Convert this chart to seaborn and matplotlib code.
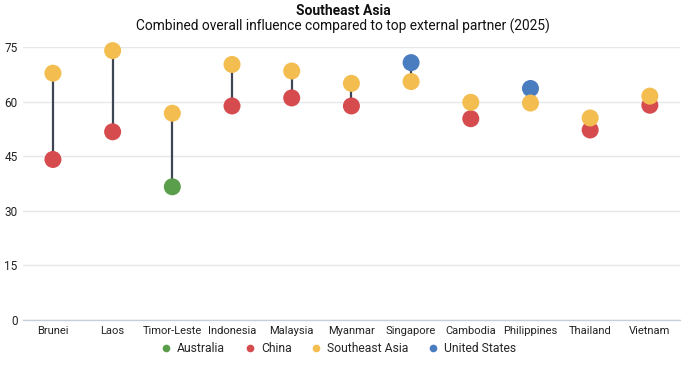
import matplotlib
matplotlib.use("Agg")
import matplotlib.pyplot as plt
import seaborn as sns
import pandas as pd

countries = ["Brunei", "Laos", "Timor-Leste", "Indonesia", "Malaysia", "Myanmar",
             "Singapore", "Cambodia", "Philippines", "Thailand", "Vietnam"]
sea_values = [67.8, 74.0, 56.8, 70.2, 68.4, 65.0, 65.5, 59.8, 59.6, 55.5, 61.5]
partner_names = ["China", "China", "Australia", "China", "China", "China",
                 "United States", "China", "United States", "China", "China"]
partner_values = [44.1, 51.7, 36.6, 58.8, 61.0, 58.8, 70.7, 55.3, 63.6, 52.2, 59.0]
hue_order = ["Australia", "China", "Southeast Asia", "United States"]
palette = {"Australia": "#5a9e4b", "China": "#d64b4e",
           "Southeast Asia": "#f3bd4f", "United States": "#4a7cc0"}
yticks = [0, 15, 30, 45, 60, 75]

sns.set_theme(style="white")
plt.rcParams["font.family"] = ["Roboto", "DejaVu Sans"]

df = pd.concat([
    pd.DataFrame({"country": countries, "value": partner_values, "series": partner_names}),
    pd.DataFrame({"country": countries, "value": sea_values,
                  "series": ["Southeast Asia"] * len(countries)}),
], ignore_index=True)

fig = plt.figure(figsize=(7, 3.67), dpi=100)
ax = fig.add_axes([0.033, 0.128, 0.938, 0.744])

ax.vlines(countries, partner_values, sea_values, color="#3d4652", linewidth=1.6, zorder=2)
sns.scatterplot(data=df, x="country", y="value", hue="series", hue_order=hue_order,
                palette=palette, s=150, linewidth=0, ax=ax, zorder=3, clip_on=False)

ax.set_xlim(-0.5, len(countries) - 0.5)
ax.set_ylim(0, 75)
ax.set_yticks(yticks)
ax.set_xlabel("")
ax.set_ylabel("")
ax.grid(axis="y", color="#e6e8ec", linewidth=1)
ax.set_axisbelow(True)
for s in ["top", "right", "left"]:
    ax.spines[s].set_visible(False)
ax.spines["bottom"].set_color("#c5cedb")
ax.spines["bottom"].set_linewidth(1)
ax.tick_params(axis="both", length=0, labelsize=8, colors="#222222")
ax.tick_params(axis="y", pad=4, labelsize=8.5)
ax.tick_params(axis="x", pad=4)

sns.move_legend(ax, "upper center", bbox_to_anchor=(0.48, -0.04), ncol=4,
                frameon=False, title=None, fontsize=8.7, handlelength=1.0,
                handletextpad=0.4, columnspacing=1.55, markerscale=0.45)

fig.text(0.49, 0.988, "Southeast Asia", ha="center", va="top", fontsize=10,
         fontweight="bold", color="#111111")
fig.text(0.49, 0.948, "Combined overall influence compared to top external partner (2025)",
         ha="center", va="top", fontsize=9.9, color="#111111")

fig.savefig("out.png", dpi=100)
